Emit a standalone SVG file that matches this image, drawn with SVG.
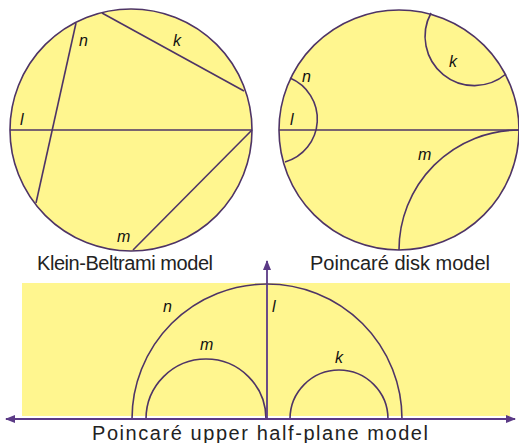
<svg xmlns="http://www.w3.org/2000/svg" width="519" height="443" viewBox="0 0 519 443">
<defs>
<style>
.fill{fill:#fff68f;}
.ln{fill:none;stroke:#4e3466;stroke-width:1.6;}
.ax{fill:none;stroke:#5b3a86;stroke-width:1.8;}
.lab{font-family:"Liberation Sans",Arial,sans-serif;font-style:italic;font-size:16px;fill:#111;}
.cap{font-family:"Liberation Sans",Arial,sans-serif;font-size:20px;fill:#222;text-anchor:middle;}
</style>
<marker id="ah" viewBox="0 0 10 8" refX="9" refY="4" markerWidth="10" markerHeight="8" markerUnits="userSpaceOnUse" orient="auto">
<path d="M0,0 L10,4 L0,8 Z" fill="#5b3a86"/>
</marker>
</defs>
<rect width="519" height="443" fill="#fff"/>

<g id="klein">
<circle class="fill" cx="131" cy="130" r="121"/>
<line class="ln" x1="10" y1="130" x2="252" y2="130"/>
<line class="ln" x1="76" y1="23" x2="36" y2="203"/>
<line class="ln" x1="102" y1="13" x2="244" y2="91"/>
<line class="ln" x1="252" y1="130" x2="133" y2="250"/>
<circle class="ln" cx="131" cy="130" r="121"/>
<text class="lab" x="79" y="46">n</text>
<text class="lab" x="173" y="46">k</text>
<text class="lab" x="20" y="125">l</text>
<text class="lab" x="117" y="242">m</text>
<text class="cap" x="125" y="270" textLength="176">Klein-Beltrami model</text>
</g>

<g id="disk">
<circle class="fill" cx="399" cy="130" r="120"/>
<line class="ln" x1="279" y1="130" x2="519" y2="130"/>
<path class="ln" d="M290,78 A44.6,44.6 0 0 1 285,162"/>
<path class="ln" d="M431,13 A49.2,49.2 0 0 0 506,74"/>
<path class="ln" d="M399,250 A120,120 0 0 1 519,130"/>
<circle class="ln" cx="399" cy="130" r="120"/>
<text class="lab" x="302" y="82">n</text>
<text class="lab" x="449" y="67">k</text>
<text class="lab" x="290" y="125">l</text>
<text class="lab" x="418" y="160">m</text>
<text class="cap" x="400" y="270" textLength="180">Poincaré disk model</text>
</g>

<g id="halfplane">
<rect class="fill" x="22" y="283" width="488" height="133"/>
<path class="ln" d="M132,419 A135,135 0 0 1 402,419"/>
<path class="ln" d="M146,419 A60,60 0 0 1 266,419"/>
<path class="ln" d="M290,419 A49,49 0 0 1 388,419"/>
<text class="lab" x="163" y="312">n</text>
<text class="lab" x="272" y="312">l</text>
<text class="lab" x="200" y="350">m</text>
<text class="lab" x="335" y="363">k</text>
<text class="cap" x="260" y="440" textLength="336">Poincaré upper half-plane model</text>
</g>

<g id="connectors">
<line class="ax" x1="260" y1="419" x2="6" y2="419" marker-end="url(#ah)"/>
<line class="ax" x1="260" y1="419" x2="515" y2="419" marker-end="url(#ah)"/>
<line class="ax" x1="267" y1="419" x2="267" y2="261" marker-end="url(#ah)"/>
</g>
</svg>
